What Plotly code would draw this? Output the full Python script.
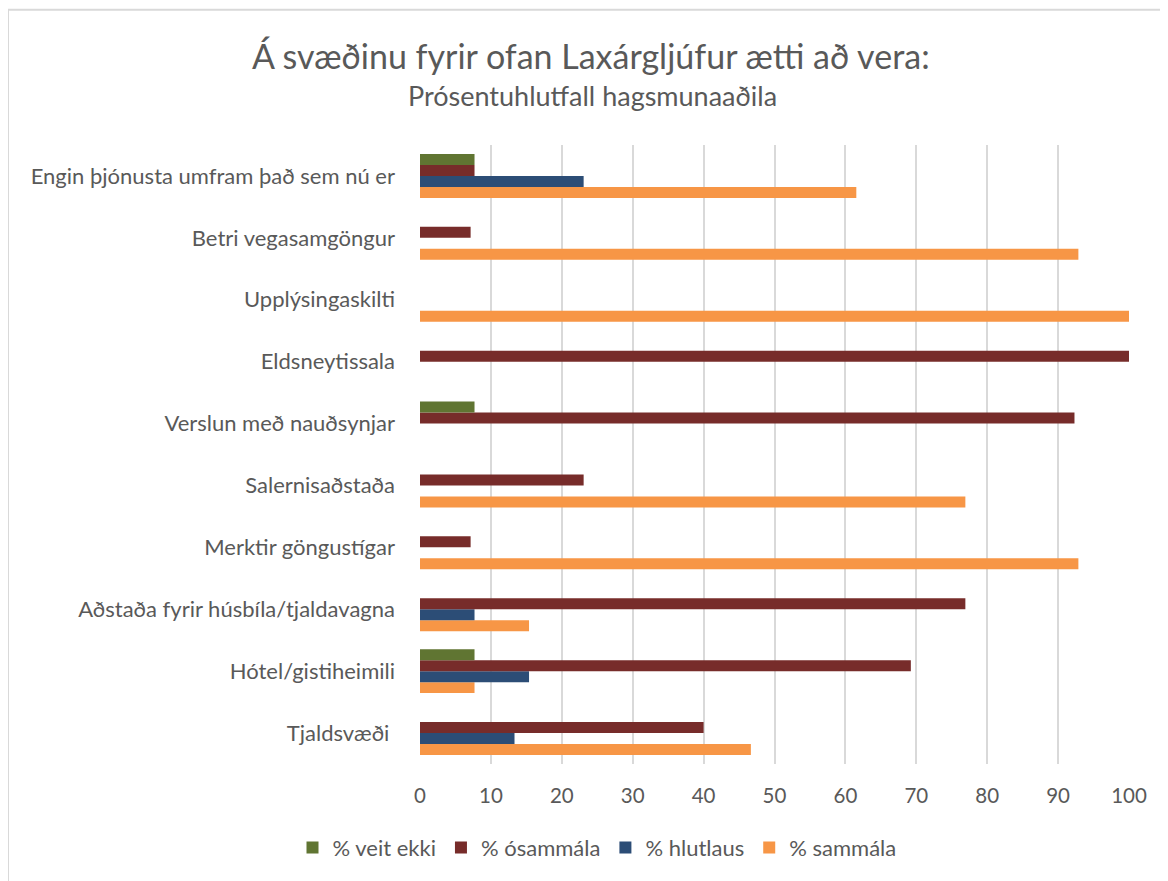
import plotly.graph_objects as go

categories = [
    "Tjaldsvæði ",
    "Hótel/gistiheimili",
    "Aðstaða fyrir húsbíla/tjaldavagna",
    "Merktir göngustígar",
    "Salernisaðstaða",
    "Verslun með nauðsynjar",
    "Eldsneytissala",
    "Upplýsingaskilti",
    "Betri vegasamgöngur",
    "Engin þjónusta umfram það sem nú er",
]

veit_ekki = [0, 7.69, 0, 0, 0, 7.69, 0, 0, 0, 7.69]
osammala = [40.0, 69.23, 76.92, 7.14, 23.08, 92.31, 100.0, 0, 7.14, 7.69]
hlutlaus = [13.33, 15.38, 7.69, 0, 0, 0, 0, 0, 0, 23.08]
sammala = [46.67, 7.69, 15.38, 92.86, 76.92, 0, 0, 100.0, 92.86, 61.54]

series_names = ["% veit ekki", "% ósammála", "% hlutlaus", "% sammála"]
series_values = [veit_ekki, osammala, hlutlaus, sammala]
series_colors = ["#607532", "#772c2a", "#2c4d76", "#f79646"]

x_ticks = [0, 10, 20, 30, 40, 50, 60, 70, 80, 90, 100]

# page has an 8px body margin; work in figure coordinates (page - 8)
OFF = 8
W, H = 1168 - OFF, 881 - OFF
L, R, T, B = 420 - OFF, 1129 - OFF, 145 - OFF, 767 - OFF
FONT = "Lato, 'Open Sans', sans-serif"
TXT = "#595959"


def px(page_x):
    return (page_x - OFF - L) / (R - L)


def py(page_y):
    return (B - (page_y - OFF)) / (B - T)


fig = go.Figure()
# add in reverse so that "% veit ekki" sits at the top of each group
for name, vals, col in reversed(list(zip(series_names, series_values, series_colors))):
    fig.add_trace(go.Bar(
        y=categories, x=vals, name=name, orientation="h",
        marker=dict(color=col, line=dict(width=0)),
    ))

fig.update_layout(
    width=W, height=H,
    margin=dict(l=L, r=W - R, t=T, b=H - B),
    paper_bgcolor="white", plot_bgcolor="white",
    barmode="group", bargap=0.29, bargroupgap=0,
    font=dict(family=FONT, color=TXT, size=20),
    showlegend=True,
    legend=dict(
        orientation="h", traceorder="reversed",
        x=px(597), xanchor="center", y=py(851), yanchor="middle",
        font=dict(size=22, color=TXT), itemwidth=30,
    ),
    xaxis=dict(
        range=[0, 100], tickvals=x_ticks, showgrid=True,
        gridcolor="#d9d9d9", gridwidth=2, zeroline=False,
        showline=False, ticks="", ticklabelstandoff=17,
        tickfont=dict(size=20.5, color=TXT), fixedrange=True,
    ),
    yaxis=dict(
        showgrid=False, zeroline=False, showline=False, ticks="",
        ticklabelstandoff=24, tickfont=dict(size=22, color=TXT),
        fixedrange=True,
    ),
    annotations=[
        dict(text="Á svæðinu fyrir ofan Laxárgljúfur ætti að vera:",
             x=px(591), y=py(55), xref="paper", yref="paper",
             xanchor="center", yanchor="middle", showarrow=False,
             font=dict(size=34, color=TXT, family=FONT)),
        dict(text="Prósentuhlutfall hagsmunaaðila",
             x=px(592), y=py(95), xref="paper", yref="paper",
             xanchor="center", yanchor="middle", showarrow=False,
             font=dict(size=27, color=TXT, family=FONT)),
    ],
    shapes=[
        dict(type="rect", xref="paper", yref="paper",
             x0=px(8), x1=px(1180), y0=py(895), y1=py(9),
             line=dict(color="#d9d9d9", width=2), fillcolor="rgba(0,0,0,0)",
             layer="below"),
    ],
)

fig.write_html("out.html")
